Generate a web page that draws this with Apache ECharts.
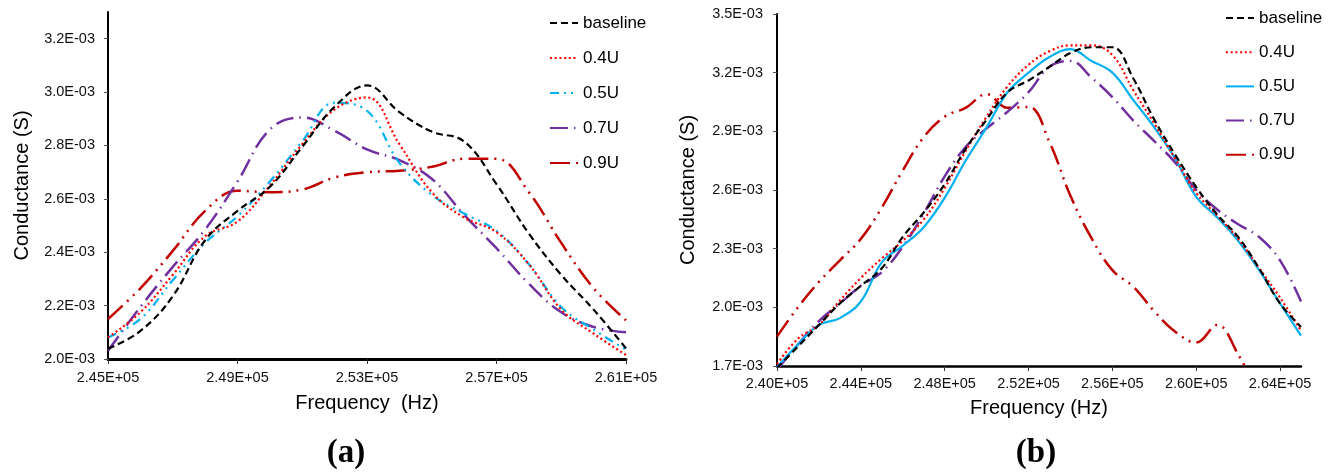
<!DOCTYPE html>
<html>
<head>
<meta charset="utf-8">
<script src="https://cdn.jsdelivr.net/npm/echarts@6/dist/echarts.min.js"></script>
<style>
html,body{margin:0;padding:0;background:#ffffff;}
#chart{width:1344px;height:472px;}
</style>
</head>
<body>
<div id="chart"></div>
<script>
// ---------- DATA ----------
// Conductance values are in units of 1E-03 S.
const seriesNames = ['baseline', '0.4U', '0.5U', '0.7U', '0.9U'];

// Chart (a)
const freqA = [245000, 246000, 247000, 248000, 249000, 250000, 251000, 252000, 253000,
               254000, 255000, 256000, 257000, 258000, 259000, 260000, 261000];
const baselineA = [2.038, 2.105, 2.235, 2.445, 2.555, 2.645, 2.795, 2.945, 3.025, 2.925, 2.852, 2.815, 2.655, 2.470, 2.315, 2.185, 2.040];
const u04A      = [2.081, 2.175, 2.315, 2.460, 2.515, 2.650, 2.805, 2.935, 2.980, 2.805, 2.625, 2.530, 2.475, 2.355, 2.185, 2.095, 2.015];
const u05A      = [2.081, 2.150, 2.295, 2.435, 2.535, 2.665, 2.815, 2.960, 2.930, 2.735, 2.615, 2.545, 2.480, 2.355, 2.195, 2.110, 2.035];
const u07A      = [2.031, 2.195, 2.345, 2.485, 2.665, 2.860, 2.905, 2.855, 2.785, 2.745, 2.675, 2.540, 2.415, 2.282, 2.175, 2.120, 2.100];
const u09A      = [2.150, 2.265, 2.405, 2.555, 2.630, 2.625, 2.635, 2.680, 2.700, 2.705, 2.720, 2.750, 2.750, 2.625, 2.435, 2.265, 2.145];

// Chart (b)
const freqB = [240000, 241000, 242000, 243000, 244000, 245000, 246000, 247000, 248000,
               249000, 250000, 251000, 252000, 253000, 254000, 255000, 256000, 257000,
               258000, 259000, 260000, 261000, 262000, 263000, 264000, 265000];
const baselineB = [1.69, 1.80, 1.91, 2.02, 2.11, 2.20, 2.36, 2.485, 2.63, 2.81, 2.96, 3.10, 3.16, 3.23, 3.30, 3.33, 3.33, 3.17, 2.96, 2.78, 2.615, 2.475, 2.36, 2.20, 2.02, 1.90];
const u04B      = [1.71, 1.84, 1.91, 2.035, 2.15, 2.25, 2.34, 2.45, 2.61, 2.80, 2.975, 3.13, 3.24, 3.31, 3.34, 3.34, 3.29, 3.11, 2.94, 2.76, 2.585, 2.47, 2.35, 2.20, 2.05, 1.88];
const u05B      = [1.695, 1.81, 1.91, 1.945, 2.03, 2.23, 2.315, 2.41, 2.56, 2.75, 2.92, 3.10, 3.20, 3.28, 3.32, 3.26, 3.20, 3.06, 2.92, 2.76, 2.565, 2.46, 2.34, 2.19, 2.02, 1.855];
const u07B      = [1.68, 1.81, 1.93, 2.02, 2.11, 2.18, 2.31, 2.48, 2.67, 2.82, 2.915, 3.00, 3.10, 3.23, 3.26, 3.175, 3.075, 2.955, 2.85, 2.74, 2.60, 2.50, 2.425, 2.36, 2.24, 2.03];
const u09B      = [1.85, 2.00, 2.13, 2.24, 2.35, 2.51, 2.70, 2.87, 2.975, 3.02, 3.09, 3.02, 3.025, 2.845, 2.57, 2.355, 2.19, 2.105, 1.98, 1.875, 1.82, 1.91, 1.76, 1.55];

// Tick settings
const xTicksA = {min: 245000, max: 261000, interval: 4000};
const yTicksA = {min: 2.0, max: 3.3, interval: 0.2};
const xTicksB = {min: 240000, max: 265000, interval: 4000};
const yTicksB = {min: 1.7, max: 3.5, interval: 0.3};

// ---------- STYLES ----------
const FONT = '"Liberation Sans", Arial, sans-serif';
const lineStylesA = {
  'baseline': {color: '#000000', type: [7, 4], width: 2.2},
  '0.4U':     {color: '#FF0000', type: [2, 2.7], width: 2.2},
  '0.5U':     {color: '#00B0F0', type: [9, 5, 2, 5, 2, 5], width: 2.2},
  '0.7U':     {color: '#7030A0', type: [18, 6, 1.5, 6], width: 2.5},
  '0.9U':     {color: '#C00000', type: [20, 6, 2, 6, 2, 6], width: 2.5}
};
const lineStylesB = Object.assign({}, lineStylesA, {
  '0.5U': {color: '#00B0F0', type: 'solid', width: 2.2}
});

function pairs(xs, ys) {
  return ys.map((v, i) => [xs[i], v]);
}

const dataA = [baselineA, u04A, u05A, u07A, u09A];
const dataB = [baselineB, u04B, u05B, u07B, u09B];

const series = [];
seriesNames.forEach((n, i) => {
  series.push({
    name: 'a|' + n, type: 'line', xAxisIndex: 0, yAxisIndex: 0,
    data: pairs(freqA, dataA[i]), smooth: 0.4, symbol: 'none', clip: true,
    lineStyle: lineStylesA[n], itemStyle: {color: lineStylesA[n].color}, z: 10 - i
  });
});
seriesNames.forEach((n, i) => {
  series.push({
    name: 'b|' + n, type: 'line', xAxisIndex: 1, yAxisIndex: 1,
    data: pairs(freqB, dataB[i]), smooth: 0.4, symbol: 'none', clip: true,
    lineStyle: lineStylesB[n], itemStyle: {color: lineStylesB[n].color}, z: 10 - i
  });
});

const fmtX = v => (v / 1e5).toFixed(2) + 'E+05';
const fmtY = v => v.toFixed(1) + 'E-03';

function xAxis(grid, t, name, margin, nameGap, lineW) {
  return {
    type: 'value', gridIndex: grid, min: t.min, max: t.max, interval: t.interval,
    name: name, nameLocation: 'middle', nameGap: nameGap,
    nameTextStyle: {fontFamily: FONT, fontSize: 20, color: '#000'},
    axisLine: {show: true, onZero: false, lineStyle: {color: '#000', width: lineW}},
    axisTick: {show: true, inside: false, length: 5, lineStyle: {color: '#333', width: 1}},
    axisLabel: {formatter: fmtX, fontFamily: FONT, fontSize: 14.5, color: '#111', margin: margin,
                showMaxLabel: t.max === 261000 ? true : false},
    splitLine: {show: false}
  };
}
function yAxis(grid, t, margin, nameGap) {
  return {
    type: 'value', gridIndex: grid, min: t.min, max: t.max, interval: t.interval,
    name: 'Conductance (S)', nameLocation: 'middle', nameGap: nameGap,
    nameTextStyle: {fontFamily: FONT, fontSize: 20, color: '#000'},
    axisLine: {show: true, onZero: false, lineStyle: {color: '#000', width: 2}},
    axisTick: {show: true, inside: false, length: 4, lineStyle: {color: '#555', width: 1}},
    axisLabel: {formatter: fmtY, fontFamily: FONT, fontSize: 14.5, color: '#111', margin: margin,
                showMaxLabel: t.max === 3.5 ? true : false},
    splitLine: {show: false}
  };
}

function legend(left, top, gap, prefix) {
  return {
    orient: 'vertical', left: left, top: top, itemWidth: 28, itemHeight: 14, itemGap: gap,
    data: seriesNames.map(n => prefix + n),
    formatter: n => n.slice(2),
    itemStyle: {color: 'rgba(0,0,0,0)', borderWidth: 0, opacity: 0},
    textStyle: {fontFamily: FONT, fontSize: 17, color: '#000', lineHeight: 18},
    selectedMode: false
  };
}

const chart = echarts.init(document.getElementById('chart'), null, {renderer: 'canvas'});
chart.setOption({
  animation: false,
  backgroundColor: '#ffffff',
  grid: [
    {left: 108, top: 12, width: 518, height: 347},
    {left: 777, top: 14, width: 524, height: 352}
  ],
  xAxis: [
    xAxis(0, xTicksA, 'Frequency  (Hz)', 11, 34, 3),
    xAxis(1, xTicksB, 'Frequency (Hz)', 10.5, 32, 2.5)
  ],
  yAxis: [
    yAxis(0, yTicksA, 13, 76),
    yAxis(1, yTicksB, 14, 79)
  ],
  legend: [
    legend(544, 9, 17, 'a|'),
    legend(1220, 4, 16.2, 'b|')
  ],
  graphic: [
    {type: 'text', style: {text: '(a)', x: 346, y: 453, align: 'center', verticalAlign: 'middle',
      fontFamily: '"Liberation Serif", "Times New Roman", serif', fontWeight: 'bold', fontSize: 33, fill: '#000'}},
    {type: 'text', style: {text: '(b)', x: 1036, y: 453, align: 'center', verticalAlign: 'middle',
      fontFamily: '"Liberation Serif", "Times New Roman", serif', fontWeight: 'bold', fontSize: 33, fill: '#000'}}
  ],
  series: series
});
</script>
</body>
</html>
